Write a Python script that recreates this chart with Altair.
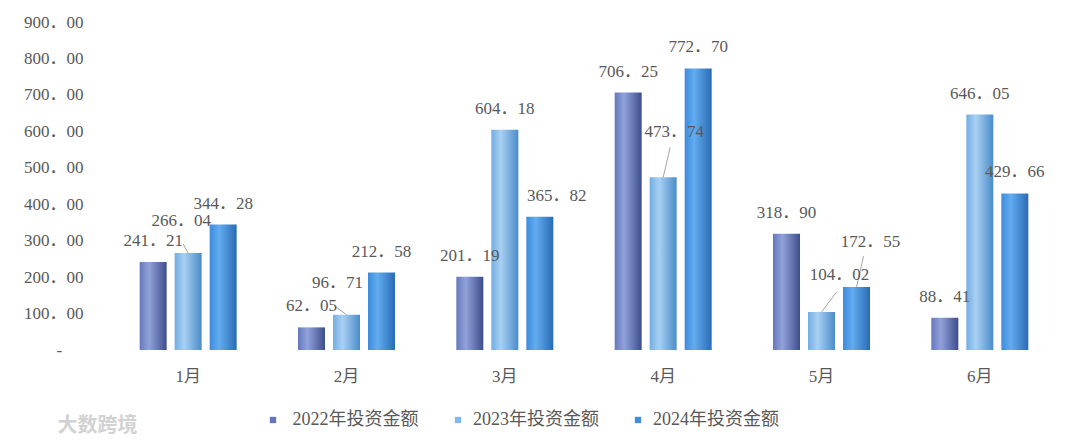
import altair as alt
import pandas as pd

# ---------------- data ----------------
months = ["1月", "2月", "3月", "4月", "5月", "6月"]
series = ["2022年投资金额", "2023年投资金额", "2024年投资金额"]
v2022 = [241.21, 62.05, 201.19, 706.25, 318.90, 88.41]
v2023 = [266.04, 96.71, 604.18, 473.74, 104.02, 646.05]
v2024 = [344.28, 212.58, 365.82, 772.70, 172.55, 429.66]
y_ticks = [0, 100, 200, 300, 400, 500, 600, 700, 800, 900]

# manually moved data labels: (month, series index, extra dx px, extra dy px)
label_moves = [("1月", 1, -7, -11), ("2月", 1, -9, -11), ("3月", 2, 17, 0),
               ("4月", 1, 11, -24), ("5月", 1, 18, -16), ("5月", 2, 14, -24)]
# leader lines: (month, series index, end dx px, end dy px) from bar top
leader_lines = [("1月", 1, -5, -9), ("2月", 1, -12, -9), ("4月", 1, 7, -30),
                ("5月", 1, 15, -20), ("5月", 2, 7, -31)]

# ---------------- styling ----------------
FONT = "Liberation Serif, Noto Sans CJK SC"
TEXT = "#595959"
SPACING = 35
gradients = [
    ["#6678bb", "#91a2da", "#3c4d8b"],
    ["#72ade2", "#a9d0f2", "#4a8cc9"],
    ["#3d8bdc", "#62acef", "#2a6bb4"],
]
legend_colors = ["#6476b8", "#80b8e8", "#3f8ddb"]

vals = [v2022, v2023, v2024]
rows = []
moves = {(m, s): (dx, dy) for m, s, dx, dy in label_moves}
for si, s in enumerate(series):
    for mi, m in enumerate(months):
        v = vals[si][mi]
        dx, dy = moves.get((m, si), (0, 0))
        rows.append({
            "month": m, "series": s, "sidx": si, "value": v,
            "label": f"{v:.2f}".replace(".", "．"),
            "ndx": (si - 1) * SPACING + dx, "ndy": -21 + dy,
        })
df = pd.DataFrame(rows)

lrows = []
for m, si, ex, ey in leader_lines:
    v = vals[si][months.index(m)]
    lrows.append({"month": m, "sidx": si, "value": v, "ex": ex, "ey": ey})
ldf = pd.DataFrame(lrows)

x_enc = alt.X(
    "month:N", sort=months,
    scale=alt.Scale(domain=months, paddingInner=0.3368, paddingOuter=0.1684),
    axis=alt.Axis(title=None, labelAngle=0, domain=False, ticks=False,
                  labelPadding=18, labelFontSize=17, labelFont=FONT,
                  labelColor=TEXT),
)
y_enc = alt.Y(
    "value:Q",
    scale=alt.Scale(domain=[0, 900], nice=False),
    axis=alt.Axis(title=None, values=y_ticks, grid=False, domain=False,
                  ticks=False, labelPadding=26, labelFontSize=17,
                  labelFont=FONT, labelColor=TEXT,
                  labelExpr="datum.value == 0 ? '-\u00a0\u00a0\u00a0\u00a0\u00a0\u200b' : replace(format(datum.value, '.2f'), '.', '．')"),
)
xoff = alt.XOffset("series:N", scale=alt.Scale(domain=series,
                   paddingInner=8 / 35, paddingOuter=4 / 35))

base = alt.Chart(df)
bar_layers = []
for si, s in enumerate(series):
    g = gradients[si]
    grad = alt.Gradient(
        gradient="linear", x1=0, x2=1, y1=0, y2=0,
        stops=[alt.GradientStop(color=g[0], offset=0),
               alt.GradientStop(color=g[1], offset=0.35),
               alt.GradientStop(color=g[2], offset=1)],
    )
    bar_layers.append(
        base.transform_filter(alt.datum.series == s)
        .mark_bar(color=grad)
        .encode(x=x_enc, xOffset=xoff, y=y_enc)
    )

legend_layer = base.mark_square(opacity=0).encode(
    x=x_enc, y=y_enc,
    color=alt.Color("series:N",
                    scale=alt.Scale(domain=series, range=legend_colors),
                    legend=alt.Legend(
                        orient="none", legendX=155, legendY=389,
                        direction="horizontal", title=None,
                        symbolType="square", symbolSize=40,
                        symbolOpacity=1, symbolStrokeWidth=0,
                        labelFont=FONT, labelFontSize=18, labelColor=TEXT,
                        labelOffset=6, columnPadding=30, padding=0,
                        labelExpr="datum.label == '2022年投资金额' ? '\u200b\u00a0' + datum.label : datum.label",
                    )),
)

leaders = alt.Chart(ldf).mark_rule(
    color="#a6a6a6", strokeWidth=1,
    xOffset=alt.expr("(datum.sidx - 1) * 35"),
    x2Offset=alt.expr("(datum.sidx - 1) * 35 + datum.ex"),
    y2Offset=alt.expr("datum.ey"),
).encode(x=x_enc, x2=alt.X2("month"), y=y_enc, y2=alt.Y2("value"))

labels = base.mark_text(
    font=FONT, fontSize=17, color=TEXT, baseline="middle", align="center",
    dx=alt.expr("datum.ndx"), dy=alt.expr("datum.ndy"),
).encode(x=x_enc, y=y_enc, text="label:N")

chart = alt.layer(*bar_layers, legend_layer, leaders, labels).properties(
    width=950, height=328,
    autosize=alt.AutoSizeParams(type="none"),
    padding={"left": 101, "top": 14, "right": 13, "bottom": 86},
    background="white",
    title=alt.TitleParams("大数跨境", orient="bottom", anchor="start",
                          dx=34, offset=-13, fontSize=20,
                          fontWeight="bold", color="#d2d2d2",
                          font="Noto Sans CJK SC"),
).configure_view(stroke=None)

chart.save("out.html", embed_options={"renderer": "svg", "actions": False})
